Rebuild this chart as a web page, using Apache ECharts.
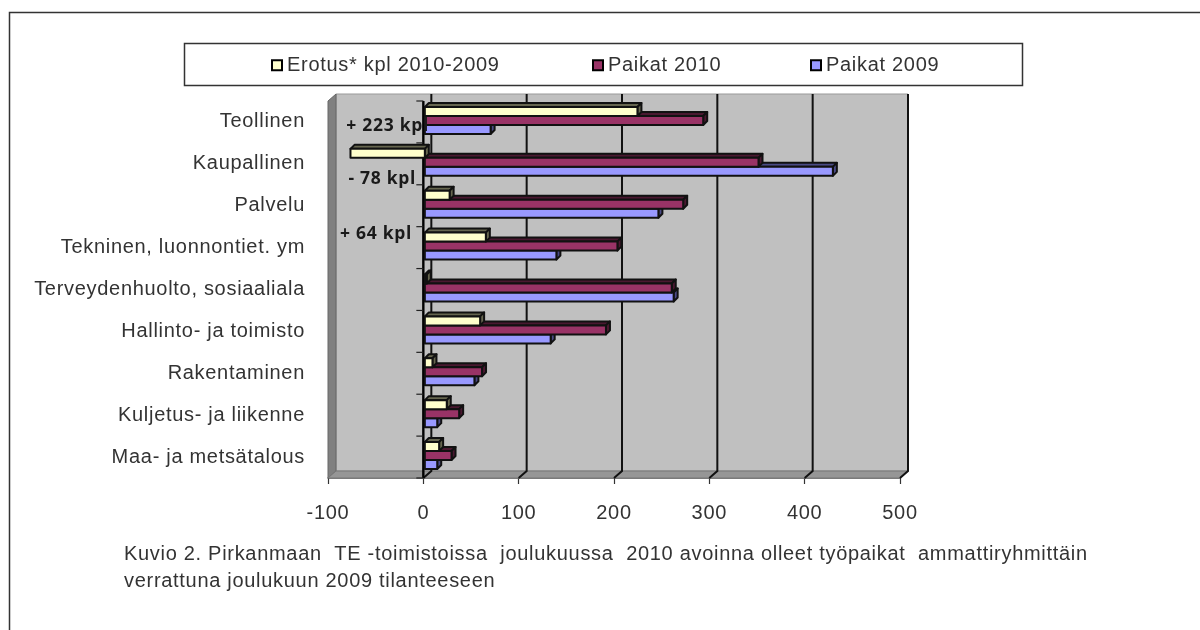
<!DOCTYPE html>
<html><head><meta charset="utf-8">
<style>html,body{margin:0;padding:0;background:#fff}#c{width:1200px;height:630px}</style>
<script src="https://cdn.jsdelivr.net/npm/echarts@6/dist/echarts.min.js"></script>
</head><body><div id="c"></div>
<script>
const categories = ['Teollinen','Kaupallinen','Palvelu','Tekninen, luonnontiet. ym','Terveydenhuolto, sosiaaliala','Hallinto- ja toimisto','Rakentaminen','Kuljetus- ja liikenne','Maa- ja metsätalous'];
const erotus = [223,-78,26,64,2,58,8,23,15];
const paikat2010 = [292,350,271,202,259,190,60,36,28];
const paikat2009 = [69,428,245,138,261,132,52,13,13];
const xTicks = [-100,0,100,200,300,400,500];
const names = ['Erotus* kpl 2010-2009','Paikat 2010','Paikat 2009'];
const notes = ['+ 223 kpl','- 78 kpl','+ 64 kpl'];
const captionLines = ['Kuvio 2. Pirkanmaan  TE -toimistoissa  joulukuussa  2010 avoinna olleet työpaikat  ammattiryhmittäin','verrattuna joulukuun 2009 tilanteeseen'];

// the reference text is widely tracked; apply the same tracking to every canvas context
const origGetContext = HTMLCanvasElement.prototype.getContext;
HTMLCanvasElement.prototype.getContext = function(type, opts){
  const ctx = origGetContext.call(this, type, opts);
  if (ctx && type === '2d' && 'letterSpacing' in ctx) ctx.letterSpacing = '0.7px';
  return ctx;
};

const FONT = '"Liberation Sans", Arial, sans-serif';
const TXT = '#333333';
const D = 8, d = 4, BAR = 9, LINE = '#111';
const styles = [
  {front:'#FFFFCC', dark:'#66664f', row:-15},
  {front:'#993366', dark:'#4a1830', row:-6},
  {front:'#9999FF', dark:'#4a4a85', row:3}
];

function wallItem(params, api){
  const n = categories.length;
  const band = api.size([0,1])[1];
  const top = api.coord([xTicks[0],0])[1]-band/2;
  const bot = top+band*n;
  const L = api.coord([xTicks[0],0])[0];
  const R = api.coord([xTicks[xTicks.length-1],0])[0];
  const Z = api.coord([0,0])[0];
  const ch = [
    {type:'polygon',shape:{points:[[L+D,top-7],[R+D,top-7],[R+D,bot-7],[L+D,bot-7]]},style:{fill:'#C0C0C0',stroke:'#999',lineWidth:1}},
    {type:'polygon',shape:{points:[[L,top],[L+D,top-7],[L+D,bot-7],[L,bot]]},style:{fill:'#808080',stroke:'#666',lineWidth:1}},
    {type:'polygon',shape:{points:[[L,bot],[L+D,bot-7],[R+D,bot-7],[R,bot]]},style:{fill:'#969696',stroke:'#777',lineWidth:1}}
  ];
  xTicks.slice(1).forEach(t=>{
    const x = api.coord([t,0])[0];
    ch.push({type:'polyline',shape:{points:[[x+D,top-7],[x+D,bot-7],[x,bot]]},style:{fill:null,stroke:LINE,lineWidth:2}});
  });
  ch.push({type:'line',shape:{x1:Z,y1:top,x2:Z,y2:bot},style:{stroke:'#000',lineWidth:2.4}});
  for(let i=0;i<=n;i++){
    const y = top+band*i;
    ch.push({type:'line',shape:{x1:Z-7,y1:y,x2:Z,y2:y},style:{stroke:'#222',lineWidth:1.2}});
  }
  return {type:'group',children:ch};
}
function barItem(params, api){
  const s = styles[params.seriesIndex-1];
  const v = api.value(0), idx = api.value(1);
  const band0 = api.coord([0,idx]);
  const vx = api.coord([v,idx])[0]+1.5;
  const zx = band0[0]+1.5;
  const y0 = band0[1]+s.row, y1 = y0+BAR;
  const a = Math.min(vx,zx), b = Math.max(vx,zx);
  const st = (f)=>({fill:f,stroke:LINE,lineWidth:2,lineJoin:'round'});
  return {type:'group',children:[
    {type:'polygon',shape:{points:[[a,y0],[a+d,y0-d],[b+d,y0-d],[b,y0]]},style:st(s.dark)},
    {type:'polygon',shape:{points:[[b,y0],[b+d,y0-d],[b+d,y1-d],[b,y1]]},style:st(s.dark)},
    {type:'rect',shape:{x:a,y:y0,width:b-a,height:BAR},style:st(s.front)}
  ]};
}
const mkData = arr => arr.map((v,i)=>[v,i]);
const legend = (i,left)=>({data:[names[i]],left:left-5,top:50,orient:'horizontal',itemWidth:10,itemHeight:10,selectedMode:false,icon:'rect',
  textStyle:{fontFamily:FONT,fontSize:20,color:TXT}});
const barSeries = (i,arr)=>({type:'custom',name:names[i],renderItem:barItem,encode:{x:0,y:1},data:mkData(arr),clip:false,z:8-i,
  itemStyle:{color:styles[i].front,borderColor:'#000',borderWidth:2}});
const noteText = (t,x,y)=>({type:'text',x,y,z:20,style:{text:t,fontFamily:'"Open Sans",sans-serif',fontWeight:'bold',fontSize:17.5,fill:'#1a1a1a',align:'right',verticalAlign:'middle'}});
const capText = (t,y)=>({type:'text',x:124,y,z:20,style:{text:t,fontFamily:FONT,fontSize:20,fill:TXT,align:'left',verticalAlign:'middle'}});

const chart = echarts.init(document.getElementById('c'),null,{renderer:'canvas'});
chart.setOption({
  animation:false,
  backgroundColor:'#fff',
  grid:{left:328,width:572,top:101,height:377,containLabel:false},
  legend:[legend(0,271),legend(1,592),legend(2,810)],
  xAxis:{type:'value',min:-100,max:500,interval:100,
    axisLine:{show:true,onZero:false,lineStyle:{color:'#555',width:1.5}},
    axisTick:{show:true,length:6,lineStyle:{color:'#333',width:1.2}},
    splitLine:{show:false},
    axisLabel:{margin:25,fontFamily:FONT,fontSize:20,color:TXT}},
  yAxis:{type:'category',inverse:true,data:categories,
    axisLine:{show:false,onZero:false},axisTick:{show:false},
    axisLabel:{margin:23,fontFamily:FONT,fontSize:20,color:TXT,padding:[4,0,0,0]}},
  series:[
    {type:'custom',name:'wall',renderItem:wallItem,encode:{x:0,y:1},data:[[0,0]],clip:false,z:1,silent:true},
    barSeries(0,erotus),barSeries(1,paikat2010),barSeries(2,paikat2009)
  ],
  graphic:{elements:[
    {type:'rect',z:-1,shape:{x:9.5,y:12.5,width:1300,height:800},style:{fill:'none',stroke:'#333',lineWidth:1.5}},
    {type:'rect',z:-1,shape:{x:184.5,y:43.5,width:838,height:42},style:{fill:'#fff',stroke:'#333',lineWidth:1.5}},
    noteText(notes[0],429,126),noteText(notes[1],416,179),noteText(notes[2],412,234),
    capText(captionLines[0],554),capText(captionLines[1],581)
  ]}
});
</script></body></html>
